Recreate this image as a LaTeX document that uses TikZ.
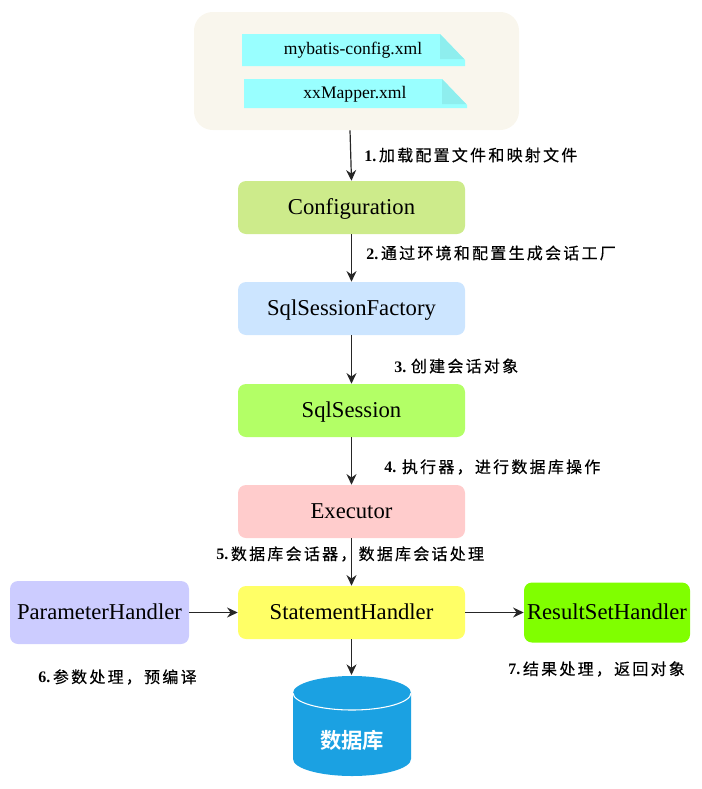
\documentclass[tikz,border=0pt]{standalone}
\usepackage{fontspec}
\setmainfont{Liberation Serif}
\newfontfamily\cjk[LetterSpace=14,FakeBold=0.35]{Noto Sans CJK SC}
\newfontfamily\cjkdb[BoldFont={Noto Sans CJK SC Bold}]{Noto Sans CJK SC}
\usetikzlibrary{arrows.meta}
\definecolor{backcol}{HTML}{F9F6ED}
\definecolor{doccol}{HTML}{99FFFF}
\definecolor{foldcol}{HTML}{8EEEEE}
\definecolor{dbcol}{HTML}{1BA1E2}
\newcommand{\steptext}[1]{\hspace{2pt}{\cjk\mdseries #1}}
\tikzset{
    stage/.style={rounded corners=6pt,inner sep=0pt,font=\fontsize{17}{20}\selectfont,
        text height=12.5pt,text depth=2.7pt,minimum width=170.25pt,minimum height=39.75pt},
    docname/.style={inner sep=0pt,font=\fontsize{13.2}{16}\selectfont,text height=9pt,text depth=2.6pt},
    step label/.style={anchor=west,inner sep=0pt,font=\fontsize{12}{14}\selectfont\bfseries},
    flow/.style={-{Stealth[length=8pt,width=7.5pt]},line width=0.9pt,black!85},
}
\begin{document}
\begin{tikzpicture}[x=0.75pt,y=-0.75pt]
    \useasboundingbox (0,0) rectangle (702,789);
    % Config files:
    \node [fill=backcol,rounded corners=14pt,minimum width=243.75pt,minimum height=88.5pt,inner sep=0pt] (files) at (356.5,71) {};
    \fill [doccol] (242,34) -- (440,34) -- (465,60) -- (465,66) -- (242,66) -- cycle;
    \fill [foldcol] (440,34) -- (440,59) -- (464,59) -- cycle;
    \fill [doccol] (244,79) -- (442,79) -- (467,105) -- (467,108) -- (244,108) -- cycle;
    \fill [foldcol] (442,79) -- (442,104) -- (466,104) -- cycle;
    \node [docname] (config) at (353,50) {mybatis-config.xml};
    \node [docname] (mapper) at (355,94) {xxMapper.xml};

    % Main chain:
    \node [stage,fill={rgb,255:red,205;green,235;blue,139}] (configuration) at (351.5,207.5) {Configuration};
    \node [stage,fill={rgb,255:red,204;green,229;blue,255}] (factory) at (351.5,308.5) {SqlSessionFactory};
    \node [stage,fill={rgb,255:red,179;green,255;blue,102}] (session) at (351.5,410.5) {SqlSession};
    \node [stage,fill={rgb,255:red,255;green,204;blue,204}] (executor) at (351.5,511.5) {Executor};
    \node [stage,fill={rgb,255:red,255;green,255;blue,102}] (statement) at (351.5,612.5) {StatementHandler};

    % Side handlers:
    \node [stage,fill={rgb,255:red,204;green,204;blue,255},minimum width=134.25pt,minimum height=47.25pt] (parameter) at (99.5,612.5) {ParameterHandler};
    \node [stage,fill={rgb,255:red,128;green,255;blue,0},minimum width=124.5pt,minimum height=45pt] (result) at (607,612.5) {ResultSetHandler};

    % The database:
    \fill [dbcol] (293,693) arc (180:0:44.25pt and 12.75pt) -- (411,759) arc (360:180:44.25pt and 12.75pt) -- cycle;
    \draw [white,line width=0.8pt] (293,693) arc (180:360:44.25pt and 12.75pt);
    \coordinate (dbtop) at (351.5,675);
    \node [text=white,font=\fontsize{16}{19}\cjkdb\bfseries\selectfont] (dbname) at (352,740) {数据库};

    % Arrows:
    \draw [flow] (files.south -| 350,0) -- (configuration.north);
    \draw [flow] (configuration) -- (factory);
    \draw [flow] (factory) -- (session);
    \draw [flow] (session) -- (executor);
    \draw [flow] (executor) -- (statement);
    \draw [flow] (parameter) -- (statement);
    \draw [flow] (statement) -- (result);
    \draw [flow] (statement) -- (dbtop);

    % Step labels:
    \node [step label] (one) at (364,155) {1.\steptext{加载配置文件和映射文件}};
    \node [step label] (two) at (366,253) {2.\steptext{通过环境和配置生成会话工厂}};
    \node [step label] (three) at (394,366) {3.\steptext{\hspace{1.5pt}创建会话对象}};
    \node [step label] (four) at (384,467) {4.\steptext{\hspace{2.25pt}执行器，进行数据库操作}};
    \node [step label] (five) at (216,554) {5.\steptext{数据库会话器，数据库会话处理}};
    \node [step label] (six) at (38,677) {6.\steptext{参数处理，预编译}};
    \node [step label] (seven) at (508,669) {7.\steptext{结果处理，返回对象}};
\end{tikzpicture}
\end{document}
